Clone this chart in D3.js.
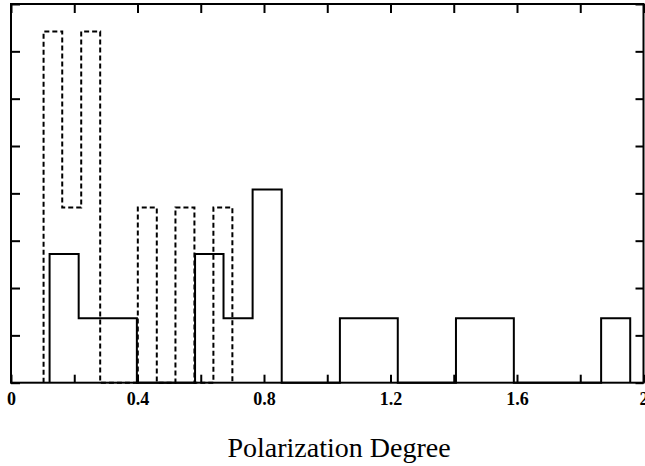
<!DOCTYPE html>
<html>
<head>
<meta charset="utf-8">
<script src="https://cdn.jsdelivr.net/npm/d3@7"></script>
<style>
  html, body { margin: 0; padding: 0; background: #fff; }
  svg { display: block; }
  .serif { font-family: "Liberation Serif", "Times New Roman", Times, "DejaVu Serif", serif; }
</style>
</head>
<body>
<svg id="chart" width="645" height="466"></svg>
<script>
// ---- data ----
const xTickValues = [0, 0.2, 0.4, 0.6, 0.8, 1.0, 1.2, 1.4, 1.6, 1.8, 2.0];
const xTickLabels = ["0", "", "0.4", "", "0.8", "", "1.2", "", "1.6", "", "2"];
const yTickValues = [0, 0.05, 0.1, 0.15, 0.2, 0.25, 0.3, 0.35, 0.4];

// solid histogram: bin edges and heights
const solidEdges = [0.122, 0.214, 0.306, 0.398, 0.490, 0.582, 0.672, 0.764, 0.856, 0.948,
                    1.040, 1.131, 1.223, 1.315, 1.407, 1.499, 1.590, 1.682, 1.774, 1.866, 1.958];
const solidValues = [0.136, 0.068, 0.068, 0, 0, 0.136, 0.068, 0.204, 0, 0,
                     0.068, 0.068, 0, 0, 0.068, 0.068, 0, 0, 0, 0.068];

// dashed histogram: bin edges and heights
const dashedEdges = [0.103, 0.162, 0.222, 0.282, 0.341, 0.401, 0.461, 0.520, 0.580, 0.640, 0.700];
const dashedValues = [0.371, 0.185, 0.371, 0, 0, 0.185, 0, 0.185, 0, 0.185];

const xLabel = "Polarization Degree";

(function () {
  const svg = d3.select("#chart");
  const x = d3.scaleLinear().domain([0, 2]).range([11, 643.5]);
  const y = d3.scaleLinear().domain([0, 0.4]).range([382.7, 4]);

  function stepPath(edges, values) {
    const pts = [[edges[0], 0]];
    values.forEach((v, i) => {
      pts.push([edges[i], v]);
      pts.push([edges[i + 1], v]);
    });
    pts.push([edges[edges.length - 1], 0]);
    return d3.line().x(d => x(d[0])).y(d => y(d[1]))(pts);
  }

  svg.append("path")
    .attr("d", stepPath(dashedEdges, dashedValues))
    .attr("fill", "none")
    .attr("stroke", "#000")
    .attr("stroke-width", 2)
    .attr("stroke-dasharray", "5,3");

  svg.append("path")
    .attr("d", stepPath(solidEdges, solidValues))
    .attr("fill", "none")
    .attr("stroke", "#000")
    .attr("stroke-width", 2);

  const [x0, x1] = x.range();
  const [yb, yt] = y.range();

  const gBottom = svg.append("g").attr("transform", `translate(0,${yb})`)
    .call(d3.axisBottom(x).tickValues(xTickValues).tickSizeInner(-8).tickSizeOuter(0)
      .tickPadding(12).tickFormat((d, i) => xTickLabels[i]));
  const gTop = svg.append("g").attr("transform", `translate(0,${yt})`)
    .call(d3.axisTop(x).tickValues(xTickValues).tickSizeInner(-9).tickSizeOuter(0).tickFormat(""));
  const gLeft = svg.append("g").attr("transform", `translate(${x0},0)`)
    .call(d3.axisLeft(y).tickValues(yTickValues).tickSizeInner(-9).tickSizeOuter(0).tickFormat(""));
  const gRight = svg.append("g").attr("transform", `translate(${x1},0)`)
    .call(d3.axisRight(y).tickValues(yTickValues).tickSizeInner(-8).tickSizeOuter(0).tickFormat(""));

  [gBottom, gTop, gLeft, gRight].forEach(g => {
    g.selectAll(".domain").remove();
    g.selectAll(".tick line").attr("stroke", "#000").attr("stroke-width", 2);
  });

  gBottom.attr("font-family", null).attr("font-size", null);
  gBottom.selectAll(".tick text")
    .attr("class", "serif")
    .attr("font-weight", "bold")
    .attr("font-size", 18)
    .style("font-weight", "bold")
    .style("font-size", "18px")
    .attr("fill", "#000")
    .attr("y", 22)
    .attr("dy", 0);

  svg.append("rect")
    .attr("x", x0).attr("y", yt)
    .attr("width", x1 - x0).attr("height", yb - yt)
    .attr("fill", "none").attr("stroke", "#000").attr("stroke-width", 2);

  svg.append("text")
    .attr("class", "serif")
    .attr("x", 339)
    .attr("y", 457)
    .attr("text-anchor", "middle")
    .attr("font-size", 28)
    .style("font-size", "28px")
    .attr("fill", "#000")
    .text(xLabel);
})();
</script>
</body>
</html>
